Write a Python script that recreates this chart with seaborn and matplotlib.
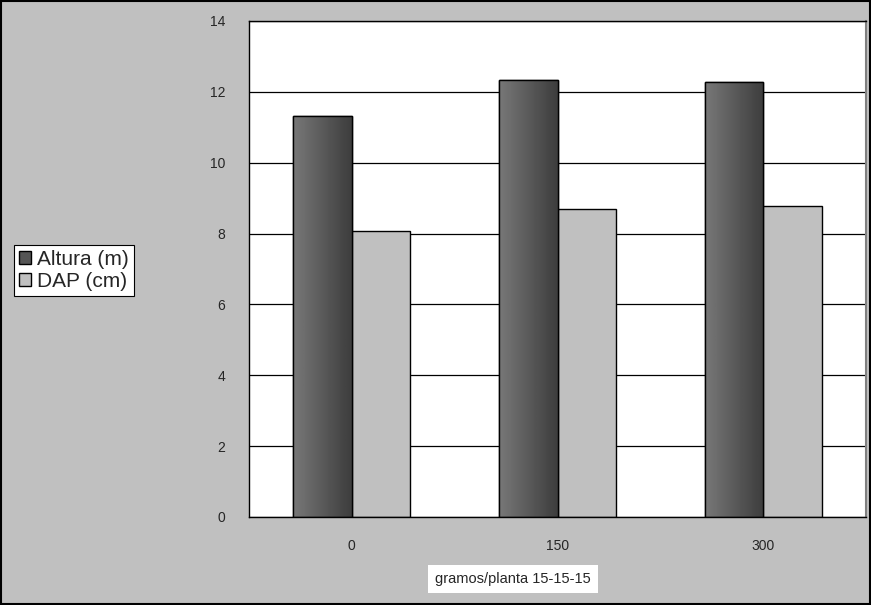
import numpy as np
import pandas as pd
import matplotlib
matplotlib.use("Agg")
import matplotlib.pyplot as plt
import seaborn as sns
from matplotlib.patches import Rectangle

sns.set_style("white")
plt.rcParams["font.family"] = ["Liberation Sans", "DejaVu Sans"]

# data
dosis = ["0", "150", "300"]
altura = [11.32, 12.33, 12.28]
dap = [8.07, 8.69, 8.78]
series = ["Altura (m)", "DAP (cm)"]

df = pd.DataFrame({
    "dosis": dosis * 2,
    "valor": altura + dap,
    "serie": [series[0]] * 3 + [series[1]] * 3,
})

bg = "#C0C0C0"
fig = plt.figure(figsize=(8.71, 6.05), dpi=100, facecolor=bg)
ax = fig.add_axes([0.2859, 0.1455, 0.7084, 0.8198])
ax.set_facecolor("white")

sns.barplot(
    data=df, x="dosis", y="valor", hue="serie",
    palette=["#555555", "#C0C0C0"], width=0.57,
    edgecolor="black", linewidth=1.0, ax=ax, errorbar=None,
)

# gradient on the dark bars
grad = np.linspace(0.47, 0.24, 64).reshape(1, -1)
for bar in ax.containers[0]:
    x0, y0 = bar.get_x(), bar.get_y()
    w, h = bar.get_width(), bar.get_height()
    im = ax.imshow(grad, cmap="gray", vmin=0, vmax=1, aspect="auto",
                   extent=[x0, x0 + w, y0, y0 + h], zorder=bar.get_zorder() + 0.1)
    im.set_clip_path(bar)
    ax.add_patch(Rectangle((x0, y0), w, h, fill=False, edgecolor="black",
                           linewidth=1.0, zorder=bar.get_zorder() + 0.2))

ax.set_xlim(-0.5, 2.5)
ax.set_ylim(0, 14)
ax.set_yticks(range(0, 15, 2))
ax.yaxis.grid(True, color="black", linewidth=0.9)
ax.set_axisbelow(True)

ax.set_xticks([0, 1, 2])
ax.set_xticklabels(dosis)
ax.set_xticks([-0.5, 0.5, 1.5, 2.5], minor=True)
ax.tick_params(axis="x", which="major", length=0, pad=16, labelsize=10)
ax.tick_params(axis="x", which="minor", length=6, width=0.9, color="black", direction="out")
ax.tick_params(axis="y", length=6, width=0.9, color="black", direction="out", pad=11, labelsize=10)

for s in ["left", "bottom", "top"]:
    ax.spines[s].set_color("black")
    ax.spines[s].set_linewidth(1.0)
ax.spines["right"].set_color("#808080")
ax.spines["right"].set_linewidth(1.5)

ax.set_xlabel("")
ax.set_ylabel("")

fig.text(0.5887, 0.043, "gramos/planta 15-15-15", ha="center", va="center", fontsize=10.5,
         bbox=dict(facecolor="white", edgecolor="none", boxstyle="square,pad=0.5"))

leg = ax.legend(loc="center left", bbox_to_anchor=(0.016, 0.553),
                bbox_transform=fig.transFigure, fontsize=15, frameon=True,
                fancybox=False, edgecolor="black", framealpha=1,
                handlelength=0.55, handleheight=0.55, handletextpad=0.3,
                borderpad=0.25, labelspacing=0.15, borderaxespad=0)
leg.get_frame().set_linewidth(0.8)

fig.patches.append(Rectangle((0.001, 0.001), 0.998, 0.998, transform=fig.transFigure,
                             fill=False, edgecolor="black", linewidth=1.5))

fig.savefig("out.png", dpi=100, facecolor=bg)
